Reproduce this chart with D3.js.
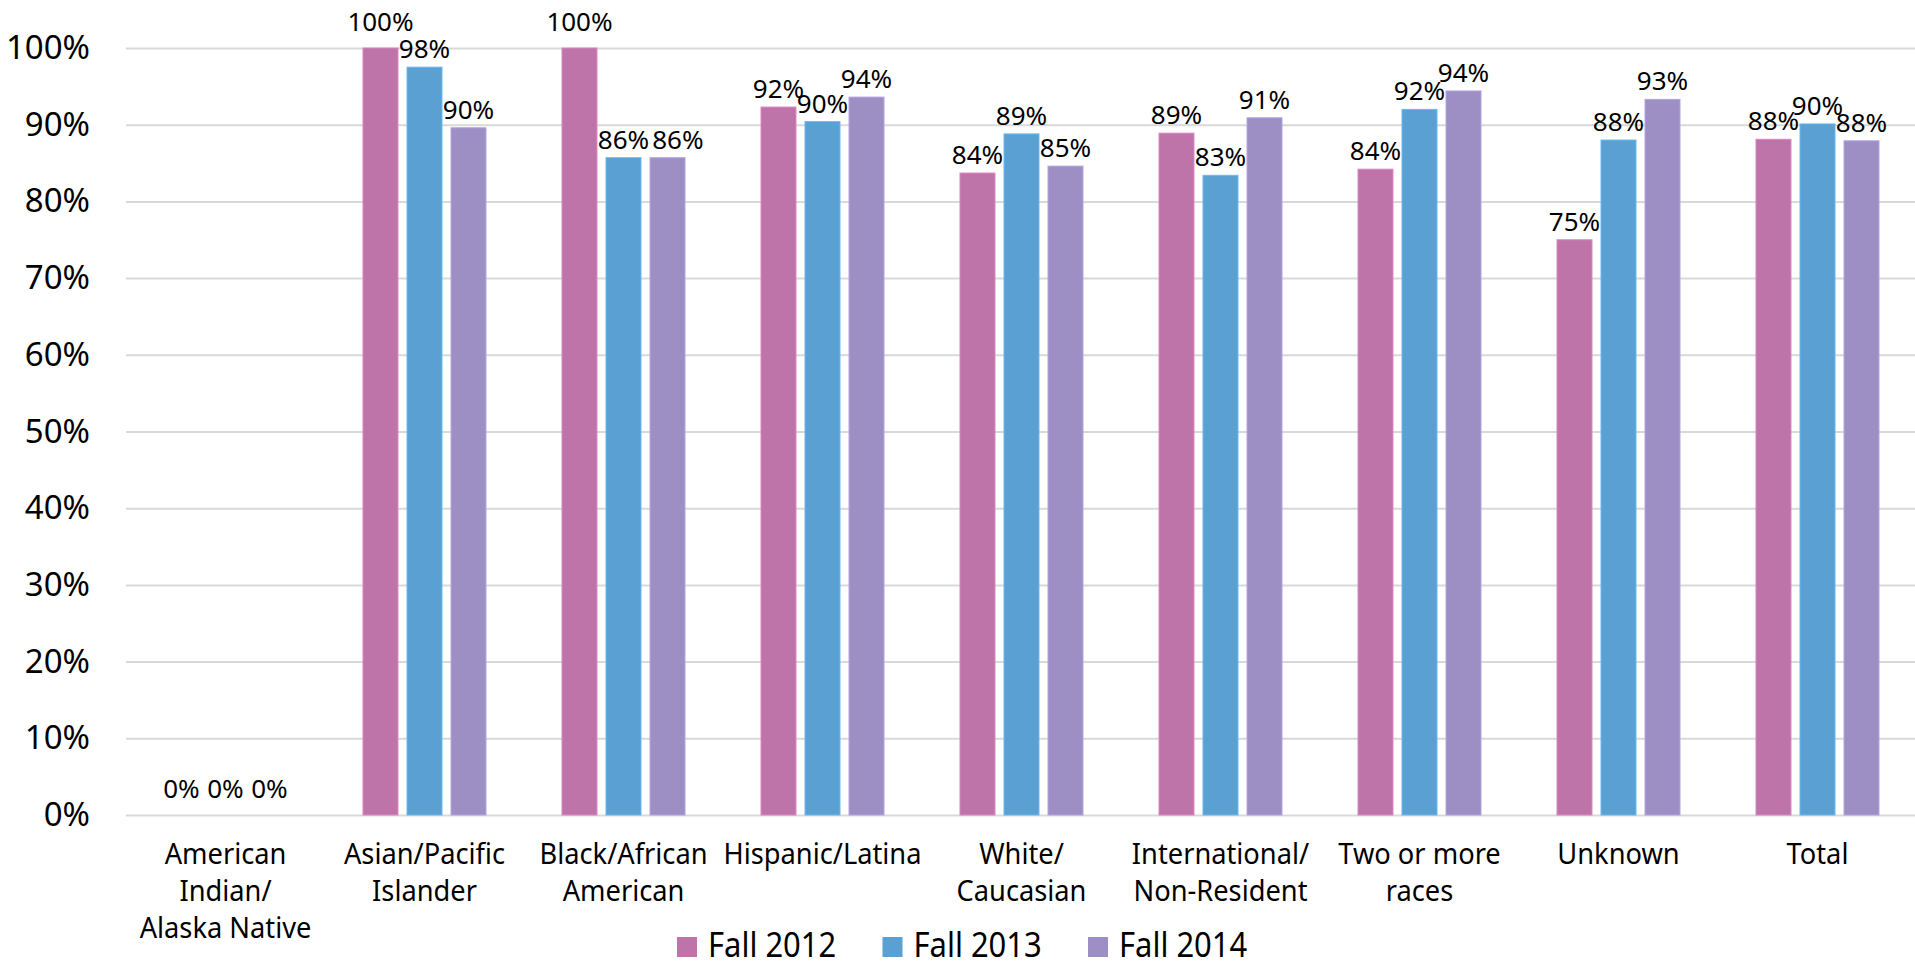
<!DOCTYPE html>
<html>
<head>
<meta charset="utf-8">
<title>bars</title>
<style>
  body { margin: 0; background: #fff; }
  text { font-family: "Noto Sans", "Open Sans", sans-serif; fill: #000; }
</style>
</head>
<body>
<svg class="chart"></svg>
<script src="https://cdn.jsdelivr.net/npm/d3@7"></script>
<script>
var categories = [
  "American\nIndian/\nAlaska Native",
  "Asian/Pacific\nIslander",
  "Black/African\nAmerican",
  "Hispanic/Latina",
  "White/\nCaucasian",
  "International/\nNon-Resident",
  "Two or more\nraces",
  "Unknown",
  "Total"
];
var seriesNames = ["Fall 2012", "Fall 2013", "Fall 2014"];
var fall2012 = [0, 100, 100, 92.3, 83.7, 88.9, 84.2, 75.0, 88.1];
var fall2013 = [0, 97.5, 85.7, 90.4, 88.8, 83.4, 92.0, 88.0, 90.1];
var fall2014 = [0, 89.6, 85.7, 93.6, 84.6, 90.9, 94.4, 93.3, 87.9];
var yTicks = [0, 10, 20, 30, 40, 50, 60, 70, 80, 90, 100];
var colors = ["#bf74a9", "#5aa0d3", "#9d8ec4"];

var W = 1915, H = 966;
var plotLeft = 126, plotRight = 1917, plotTop = 48, plotBottom = 815;

var svg = d3.select('.chart').attr('width', W).attr('height', H);

var x0 = d3.scaleBand().domain(categories).range([plotLeft, plotRight]).padding(0);
var x1 = d3.scaleBand().domain(seriesNames)
    .range([38, x0.bandwidth() - 38])
    .paddingInner(0.205).paddingOuter(0);
var y = d3.scaleLinear().domain([0, 100]).range([plotBottom, plotTop]);

// gridlines + tick labels
var yAxis = svg.append('g')
    .attr('transform', 'translate(' + plotLeft + ',0)')
    .call(d3.axisLeft(y).tickValues(yTicks)
        .tickSize(-(plotRight - plotLeft)).tickPadding(36)
        .tickFormat(function(d) { return d + '%'; }));
yAxis.select('.domain').remove();
yAxis.selectAll('line').attr('stroke', '#d9d9d9').attr('stroke-width', 2);
yAxis.selectAll('text').style('font-size', '33px').attr('fill', '#000');

var data = categories.map(function(c, i) {
  return { cat: c, vals: [fall2012[i], fall2013[i], fall2014[i]] };
});

var groups = svg.selectAll('g.grp')
    .data(data).enter().append('g')
    .attr('class', 'grp')
    .attr('transform', function(d) { return 'translate(' + x0(d.cat) + ',0)'; });

function points(d) {
  return d.vals.map(function(v, i) { return { s: seriesNames[i], v: v, i: i }; });
}

groups.selectAll('rect')
    .data(points)
    .enter().append('rect')
    .attr('x', function(d) { return x1(d.s); })
    .attr('y', function(d) { return y(d.v); })
    .attr('width', x1.bandwidth())
    .attr('height', function(d) { return y(0) - y(d.v); })
    .attr('fill', function(d) { return colors[d.i]; })
    .attr('stroke', function(d) { return d3.color(colors[d.i]).brighter(0.4); })
    .attr('stroke-width', 1);

// value labels
groups.selectAll('text.lbl')
    .data(points)
    .enter().append('text')
    .attr('class', 'lbl')
    .attr('x', function(d) { return x1(d.s) + x1.bandwidth() / 2; })
    .attr('y', function(d) {
      var gap = (d.v >= 99.95 || d.v === 0) ? 17 : 9;
      return y(d.v) - gap;
    })
    .attr('text-anchor', 'middle')
    .style('font-size', '26px')
    .text(function(d) { return Math.round(d.v) + '%'; });

// nudge a label right when it sits on top of its left neighbour
groups.each(function() {
  var prev = null;
  d3.select(this).selectAll('text.lbl').each(function() {
    var t = d3.select(this);
    var w = this.getComputedTextLength();
    var cx = +t.attr('x'), by = +t.attr('y');
    if (prev && Math.abs(by - prev.by) < 10 && cx - w / 2 < prev.right) {
      cx += prev.right - (cx - w / 2) + 3;
      t.attr('x', cx);
    }
    prev = { right: cx + w / 2, by: by };
  });
});

// category labels
svg.selectAll('text.cat')
    .data(categories).enter().append('text')
    .attr('class', 'cat')
    .attr('text-anchor', 'middle')
    .style('font-size', '29px')
    .attr('transform', function(d) {
      return 'translate(' + (x0(d) + x0.bandwidth() / 2) + ',864) scale(0.94,1)';
    })
    .each(function(d) {
      var t = d3.select(this);
      d.split('\n').forEach(function(line, k) {
        t.append('tspan').attr('x', 0).attr('y', k * 37).text(line);
      });
    });

// legend
var legend = svg.append('g').attr('transform', 'translate(677,937)');
var items = legend.selectAll('g')
    .data(seriesNames).enter().append('g')
    .attr('transform', function(d, i) { return 'translate(' + i * 205.5 + ',0)'; });
items.append('rect')
    .attr('x', 0).attr('y', 0).attr('width', 20).attr('height', 20)
    .attr('fill', function(d, i) { return colors[i]; });
items.append('text')
    .attr('transform', 'translate(31,20) scale(0.91,1)')
    .style('font-size', '34px')
    .text(function(d) { return d; });
</script>
</body>
</html>
